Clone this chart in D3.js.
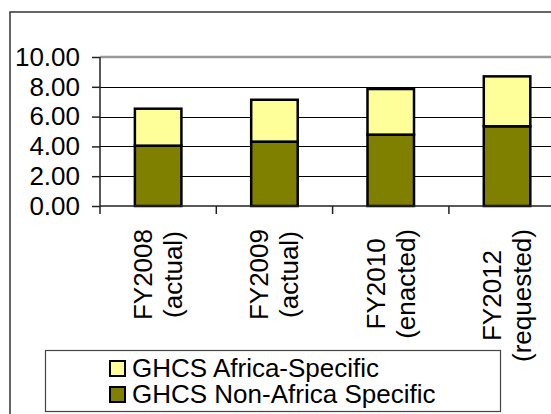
<!DOCTYPE html>
<html>
<head>
<meta charset="utf-8">
<script src="https://cdn.jsdelivr.net/npm/d3@7"></script>
<style>
  body { margin: 0; background: #fff; }
  text { font-family: "Liberation Sans", Arial, sans-serif; fill: #000; }
</style>
</head>
<body>
<svg id="chart" width="551" height="414"></svg>
<script>
// values
var categories = [["FY2008", "(actual)"], ["FY2009", "(actual)"], ["FY2010", "(enacted)"], ["FY2012", "(requested)"]];
var nonAfrica = [4.05, 4.32, 4.79, 5.35];
var africa = [2.48, 2.81, 3.06, 3.35];
var seriesNames = ["GHCS Non-Africa Specific", "GHCS Africa-Specific"];
var seriesColors = ["#808000", "#ffff99"];
var yTicks = [0, 2, 4, 6, 8, 10];

var svg = d3.select("#chart");
var fontSize = 26;

// outer chart border (runs off the right and bottom of the picture)
svg.append("rect")
    .attr("x", 10).attr("y", 12)
    .attr("width", 600).attr("height", 460)
    .attr("fill", "none")
    .attr("stroke", "#333")
    .attr("stroke-width", 1.5);

var plotLeft = 100, plotTop = 57, plotBottom = 206, step = 116.3;

var x = d3.scaleBand()
    .domain(categories.map(function (d) { return d[0]; }))
    .range([plotLeft, plotLeft + step * categories.length])
    .paddingInner(0.6)
    .paddingOuter(0.3);

var y = d3.scaleLinear().domain([0, 10]).range([plotBottom, plotTop]);

// gridlines
svg.append("g").selectAll("line")
    .data(yTicks.filter(function (t) { return t > 0 && t < 10; }))
    .enter().append("line")
    .attr("x1", plotLeft).attr("x2", 600)
    .attr("y1", function (d) { return Math.round(y(d)) + 0.5; })
    .attr("y2", function (d) { return Math.round(y(d)) + 0.5; })
    .attr("stroke", "#000")
    .attr("stroke-width", 1);

// plot area top border
svg.append("line")
    .attr("x1", plotLeft).attr("x2", 600)
    .attr("y1", y(10)).attr("y2", y(10))
    .attr("stroke", "#999")
    .attr("stroke-width", 2.5);

// stacked bars
var table = categories.map(function (c, i) {
    return { cat: c[0], non: nonAfrica[i], afr: africa[i] };
});
var stacked = d3.stack().keys(["non", "afr"])(table);

svg.append("g").selectAll("g")
    .data(stacked)
    .enter().append("g")
    .attr("fill", function (d, i) { return seriesColors[i]; })
    .selectAll("rect")
    .data(function (d) { return d; })
    .enter().append("rect")
    .attr("x", function (d) { return x(d.data.cat); })
    .attr("y", function (d) { return y(d[1]); })
    .attr("width", x.bandwidth())
    .attr("height", function (d) { return y(d[0]) - y(d[1]); })
    .attr("stroke", "#000")
    .attr("stroke-width", 2.5);

// y axis
var yAxis = svg.append("g")
    .attr("transform", "translate(" + plotLeft + ",0)")
    .call(d3.axisLeft(y).tickValues(yTicks).tickSize(8).tickPadding(12)
        .tickFormat(d3.format(".2f")));
yAxis.select(".domain").attr("d", "M0," + plotTop + "V" + (plotBottom + 8)).attr("stroke", "#222").attr("stroke-width", 1.5);
yAxis.selectAll(".tick line").attr("stroke", "#222").attr("stroke-width", 1.5);
yAxis.selectAll("text").attr("font-size", fontSize).attr("font-family", "Liberation Sans, Arial, sans-serif");

// x axis line and category separators
svg.append("line")
    .attr("x1", plotLeft).attr("x2", 600)
    .attr("y1", plotBottom).attr("y2", plotBottom)
    .attr("stroke", "#222").attr("stroke-width", 1.5);
svg.append("g").selectAll("line")
    .data(d3.range(1, categories.length + 1))
    .enter().append("line")
    .attr("x1", function (i) { return plotLeft + step * i; })
    .attr("x2", function (i) { return plotLeft + step * i; })
    .attr("y1", plotBottom).attr("y2", plotBottom + 8)
    .attr("stroke", "#222").attr("stroke-width", 1.5);

// rotated two-line category labels
var labelTop = 229;
categories.forEach(function (c) {
    var cx = x(c[0]) + x.bandwidth() / 2;
    var g = svg.append("g")
        .attr("transform", "translate(" + cx + "," + labelTop + ") rotate(-90)");
    var lines = c.map(function (t, j) {
        return g.append("text")
            .attr("font-size", fontSize)
            .attr("text-anchor", "middle")
            .attr("y", j === 0 ? -6 : 24)
            .text(t);
    });
    var maxLen = d3.max(lines, function (t) { return t.node().getComputedTextLength(); });
    lines.forEach(function (t) { t.attr("x", -maxLen / 2); });
});

// legend
var legend = svg.append("g");
legend.append("rect")
    .attr("x", 45.5).attr("y", 350.5)
    .attr("width", 455).attr("height", 61)
    .attr("fill", "#fff")
    .attr("stroke", "#444")
    .attr("stroke-width", 1.2);

var legendOrder = [1, 0];
legendOrder.forEach(function (k, row) {
    var yy = 361 + row * 26;
    legend.append("rect")
        .attr("x", 110).attr("y", yy)
        .attr("width", 15).attr("height", 15)
        .attr("fill", seriesColors[k])
        .attr("stroke", "#000")
        .attr("stroke-width", 2);
    legend.append("text")
        .attr("x", 132)
        .attr("y", yy + 16)
        .attr("font-size", fontSize)
        .text(seriesNames[k]);
});
</script>
</body>
</html>
